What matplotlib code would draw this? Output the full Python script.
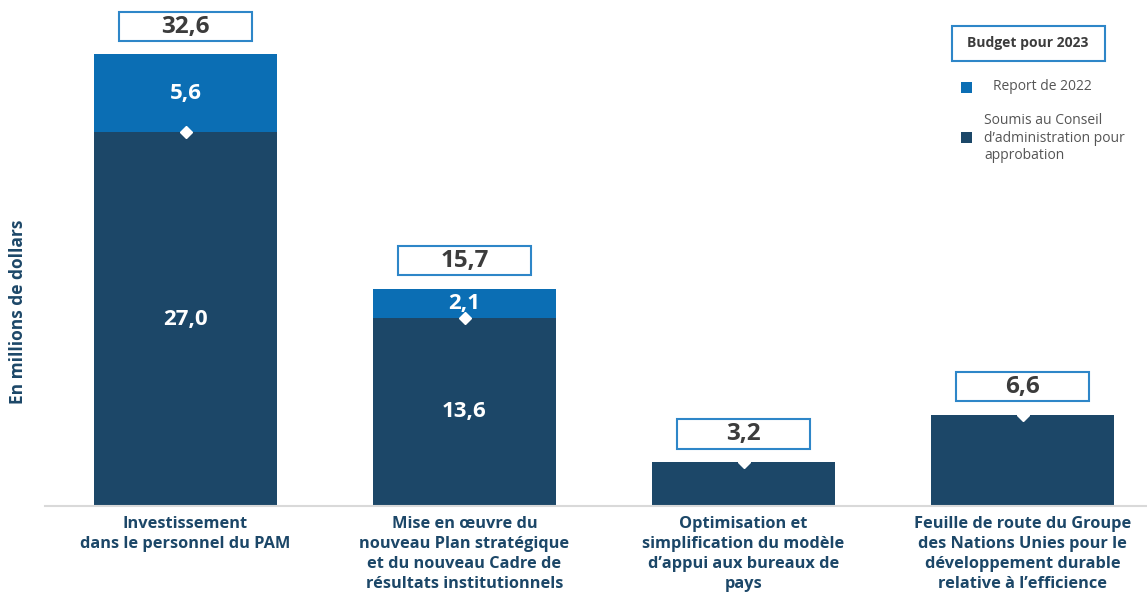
import matplotlib.pyplot as plt
from matplotlib.patches import Rectangle

plt.rcParams['font.family'] = ['Open Sans', 'DejaVu Sans']

# données (millions de dollars)
categories = ['Investissement\ndans le personnel du PAM',
              'Mise en œuvre du\nnouveau Plan stratégique\net du nouveau Cadre de\nrésultats institutionnels',
              'Optimisation et\nsimplification du modèle\nd’appui aux bureaux de\npays',
              'Feuille de route du Groupe\ndes Nations Unies pour le\ndéveloppement durable\nrelative à l’efficience']
soumis = [27.0, 13.6, 3.2, 6.6]
report = [5.6, 2.1, 0.0, 0.0]
totaux = [32.6, 15.7, 3.2, 6.6]

c_dark = '#1c4768'
c_blue = '#0b6eb4'
c_edge = '#2e86c8'
c_txt = '#3c3c3c'

W, H = 1147, 592
fig = plt.figure(figsize=(W / 100, H / 100), dpi=100)
ax = fig.add_axes([45 / W, 1 - 506 / H, 1 - 45 / W, 506 / H])

x = list(range(len(categories)))
ax.bar(x, soumis, width=0.656, color=c_dark)
ax.bar(x, report, width=0.656, bottom=soumis, color=c_blue)
ax.plot(x, soumis, 'D', color='white', markersize=6, linestyle='none', zorder=3)

for i in x:
    # étiquettes internes
    if report[i] > 0:
        ax.text(i, soumis[i] / 2, f'{soumis[i]:.1f}'.replace('.', ','), ha='center', va='center',
                color='white', fontsize=16, fontweight='bold')
        ax.text(i, soumis[i] + report[i] / 2, f'{report[i]:.1f}'.replace('.', ','), ha='center',
                va='center', color='white', fontsize=16, fontweight='bold')
    # boîte du total
    ax.add_patch(Rectangle((i - 0.238, totaux[i] + 0.95), 0.476, 2.15, facecolor='white',
                           edgecolor=c_edge, linewidth=1.5, clip_on=False))
    ax.text(i, totaux[i] + 2.02, f'{totaux[i]:.1f}'.replace('.', ','), ha='center', va='center',
            color=c_txt, fontsize=17.5, fontweight='bold')
    # libellés de catégorie
    ax.text(i, -0.75, categories[i], ha='center', va='top', color=c_dark, fontsize=11.8,
            fontweight='bold', linespacing=1.33)

ax.set_xlim((45 - 185.5) / 279, (W - 185.5) / 279)
ax.set_ylim(0, 506 / 13.85)
for s in ['top', 'right', 'left']:
    ax.spines[s].set_visible(False)
ax.spines['bottom'].set_color('#d9d9d9')
ax.spines['bottom'].set_linewidth(1.5)
ax.set_xticks([])
ax.set_yticks([])

fig.text(18 / W, 1 - 312 / H, 'En millions de dollars', rotation=90, ha='center', va='center',
         color=c_dark, fontsize=12.5, fontweight='bold')

# légende
fig.patches.append(Rectangle((952 / W, 1 - 61 / H), 153 / W, 35 / H, transform=fig.transFigure,
                             facecolor='white', edgecolor=c_edge, linewidth=1.5))
fig.text(1028 / W, 1 - 43 / H, 'Budget pour 2023', ha='center', va='center', color=c_txt,
         fontsize=10, fontweight='bold')
fig.patches.append(Rectangle((961 / W, 1 - 93 / H), 11 / W, 11 / H, transform=fig.transFigure,
                             facecolor=c_blue, edgecolor='none'))
fig.text(993 / W, 1 - 86 / H, 'Report de 2022', ha='left', va='center', color='#555555', fontsize=10)
fig.patches.append(Rectangle((961 / W, 1 - 143 / H), 11 / W, 11 / H, transform=fig.transFigure,
                             facecolor=c_dark, edgecolor='none'))
fig.text(984 / W, 1 - 138 / H, 'Soumis au Conseil\nd’administration pour\napprobation', ha='left',
         va='center', color='#555555', fontsize=10, linespacing=1.2)

fig.savefig('out.png', dpi=100)
